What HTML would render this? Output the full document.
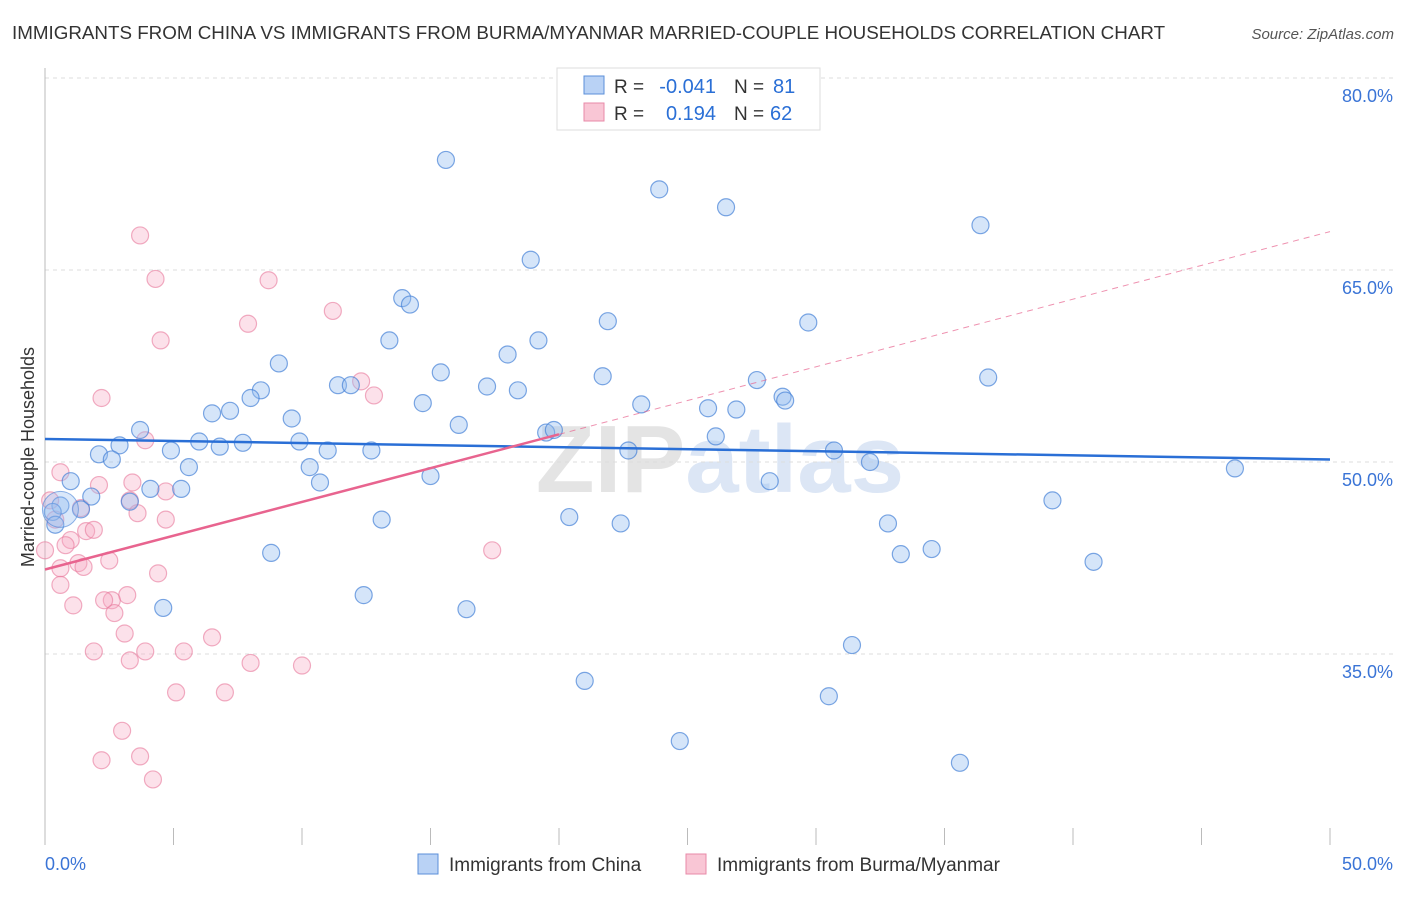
<!DOCTYPE html>
<html><head><meta charset="utf-8"><style>
body{margin:0;background:#fff;font-family:"Liberation Sans",sans-serif}
svg text{font-family:"Liberation Sans",sans-serif}
</style></head><body>
<svg width="1406" height="892" xmlns="http://www.w3.org/2000/svg">
<text x="12" y="39" font-size="18.8" fill="#333">IMMIGRANTS FROM CHINA VS IMMIGRANTS FROM BURMA/MYANMAR MARRIED-COUPLE HOUSEHOLDS CORRELATION CHART</text>
<text x="1394" y="39" font-size="15" fill="#555" text-anchor="end" font-style="italic">Source: ZipAtlas.com</text>
<text x="720" y="492" font-size="96" fill="#e4e4e4" text-anchor="middle" font-weight="bold">ZIP<tspan fill="#dce6f5">atlas</tspan></text>
<g id="grid"></g>
<g id="axes"></g>
<g id="pts"></g>
<g id="lines"></g>
<text transform="translate(34,457) rotate(-90)" font-size="18" fill="#333" text-anchor="middle">Married-couple Households</text>
<g>
<rect x="557" y="68" width="263" height="62" fill="#fff" stroke="#ddd"/>
<rect x="584" y="76" width="20" height="18" fill="#b9d2f5" stroke="#5b8fd9"/>
<rect x="584" y="103" width="20" height="18" fill="#f9c6d5" stroke="#e88aa8"/>
<text x="614" y="93" font-size="19" fill="#333">R =</text>
<text x="716" y="93" font-size="20" fill="#2a6fd6" text-anchor="end">-0.041</text>
<text x="734" y="93" font-size="19" fill="#333">N =</text>
<text x="773" y="93" font-size="20" fill="#2a6fd6">81</text>
<text x="614" y="120" font-size="19" fill="#333">R =</text>
<text x="716" y="120" font-size="20" fill="#2a6fd6" text-anchor="end">0.194</text>
<text x="734" y="120" font-size="19" fill="#333">N =</text>
<text x="770" y="120" font-size="20" fill="#2a6fd6">62</text>
</g>
<g>
<rect x="418" y="854" width="20" height="20" fill="#b9d2f5" stroke="#5b8fd9"/>
<text x="449" y="871" font-size="19" fill="#333">Immigrants from China</text>
<rect x="686" y="854" width="20" height="20" fill="#f9c6d5" stroke="#e88aa8"/>
<text x="717" y="871" font-size="19" fill="#333">Immigrants from Burma/Myanmar</text>
</g>
</svg>
<script>
const yTicks=[35,50,65,80];
const yTickLabels=["35.0%","50.0%","65.0%","80.0%"];
const xTickLabels=["0.0%","50.0%"];
const chinaX=[15.6,23.9,26.5,36.4,18.9,13.9,14.2,21.9,29.7,13.4,19.2,9.1,18.0,15.4,11.4,11.9,17.2,18.4,21.7,27.7,36.7,8.4,8.0,14.7,28.7,28.8,9.6,6.5,7.2,23.2,25.8,26.9,16.1,3.7,2.9,6.0,7.7,9.9,19.5,19.8,4.9,6.8,11.0,12.7,26.1,22.7,30.7,2.1,2.6,5.6,10.3,32.1,46.3,1.0,4.1,5.3,10.7,15.0,28.2,1.8,0.6,1.4,3.3,0.3,0.4,39.2,20.4,13.1,22.4,32.8,8.8,33.3,34.5,40.8,12.4,4.6,16.4,31.4,21.0,30.5,24.7,35.6];
const chinaY=[73.6,71.3,69.9,68.5,65.8,62.8,62.3,61.0,60.9,59.5,59.5,57.7,58.4,57.0,56.0,56.0,55.9,55.6,56.7,56.4,56.6,55.6,55.0,54.6,55.1,54.8,53.4,53.8,54.0,54.5,54.2,54.1,52.9,52.5,51.3,51.6,51.5,51.6,52.3,52.5,50.9,51.2,50.9,50.9,52.0,50.9,50.9,50.6,50.2,49.6,49.6,50.0,49.5,48.5,47.9,47.9,48.4,48.9,48.5,47.3,46.6,46.3,46.9,46.1,45.1,47.0,45.7,45.5,45.2,45.2,42.9,42.8,43.2,42.2,39.6,38.6,38.5,35.7,32.9,31.7,28.2,26.5];
const burmaX=[3.7,4.3,8.7,11.2,7.9,4.5,12.3,12.8,2.2,3.9,0.6,3.4,4.7,2.1,3.3,0.2,3.6,4.7,0.4,1.4,1.6,1.9,1.0,0.8,0.0,2.5,1.3,0.6,1.5,4.4,0.6,3.2,2.6,2.7,1.1,2.3,3.1,6.5,3.9,1.9,5.4,3.3,8.0,10.0,17.4,5.1,7.0,3.0,3.7,2.2,4.2];
const burmaY=[67.7,64.3,64.2,61.8,60.8,59.5,56.3,55.2,55.0,51.7,49.2,48.4,47.7,48.2,47.0,47.0,46.0,45.5,45.5,46.4,44.6,44.7,43.9,43.5,43.1,42.3,42.1,41.7,41.8,41.3,40.4,39.6,39.2,38.2,38.8,39.2,36.6,36.3,35.2,35.2,35.2,34.5,34.3,34.1,43.1,32.0,32.0,29.0,27.0,26.7,25.2];
const chinaTrend=[51.8,50.2];
const burmaTrend=[41.6,68.0];
const NS="http://www.w3.org/2000/svg";
const X=v=>45+v*25.7, Y=v=>462-(v-50)*12.8;
function mk(t,a,p){const e=document.createElementNS(NS,t);for(const k in a)e.setAttribute(k,a[k]);p.appendChild(e);return e;}
const grid=document.getElementById('grid'),axes=document.getElementById('axes'),pts=document.getElementById('pts'),lines=document.getElementById('lines');
yTicks.forEach((t,i)=>{
 const l=mk('line',{x1:45,x2:1394,y1:Y(t),y2:Y(t),stroke:'#ddd','stroke-dasharray':'4,4'},grid);
 
 
 const tx=mk('text',{x:1393,y:Y(t)+24,'font-size':18,fill:'#3a74d6','text-anchor':'end'},grid);
 tx.textContent=yTickLabels[i];
 
 
});
const ax=mk('line',{x1:45,x2:45,y1:68,y2:845,stroke:'#bbb'},axes);


for(let i=0;i<=10;i++){
 const t=mk('line',{x1:X(i*5),x2:X(i*5),y1:828,y2:845,stroke:'#bbb'},axes);
 
 
}
[[0,'start'],[50,'end']].forEach((d,i)=>{
 const tx=mk('text',{x:d[0]==0?45:1393,y:870,'font-size':18,fill:'#3a74d6','text-anchor':d[1]},axes);
 tx.textContent=xTickLabels[i];
 
 
});
burmaX.forEach((x,i)=>{
 const c=mk('circle',{cx:X(x),cy:Y(burmaY[i]),r:8.5,fill:'rgba(246,170,195,0.35)',stroke:'rgba(232,120,155,0.6)','stroke-width':1.2},pts);
 
 
});
chinaX.forEach((x,i)=>{
 const c=mk('circle',{cx:X(x),cy:Y(chinaY[i]),r:8.5,fill:'rgba(150,190,240,0.4)',stroke:'rgba(70,130,215,0.7)','stroke-width':1.2},pts);
 
 
});
const big=mk('circle',{cx:X(0.6),cy:Y(46.3),r:18,fill:'rgba(150,190,240,0.35)',stroke:'rgba(70,130,215,0.6)'},pts);


const bl=mk('line',{x1:X(0),y1:Y(chinaTrend[0]),x2:X(50),y2:Y(chinaTrend[1]),stroke:'#2a6fd6','stroke-width':2.5},lines);


const by=x=>burmaTrend[0]+(burmaTrend[1]-burmaTrend[0])*x/50;
const ps=mk('line',{x1:X(0),y1:Y(by(0)),x2:X(20),y2:Y(by(20)),stroke:'#e8648f','stroke-width':2.5},lines);


const pd=mk('line',{x1:X(20),y1:Y(by(20)),x2:X(50),y2:Y(by(50)),stroke:'#e8648f','stroke-width':1,'stroke-dasharray':'6,5','opacity':0.7},lines);


</script>
</body></html>
